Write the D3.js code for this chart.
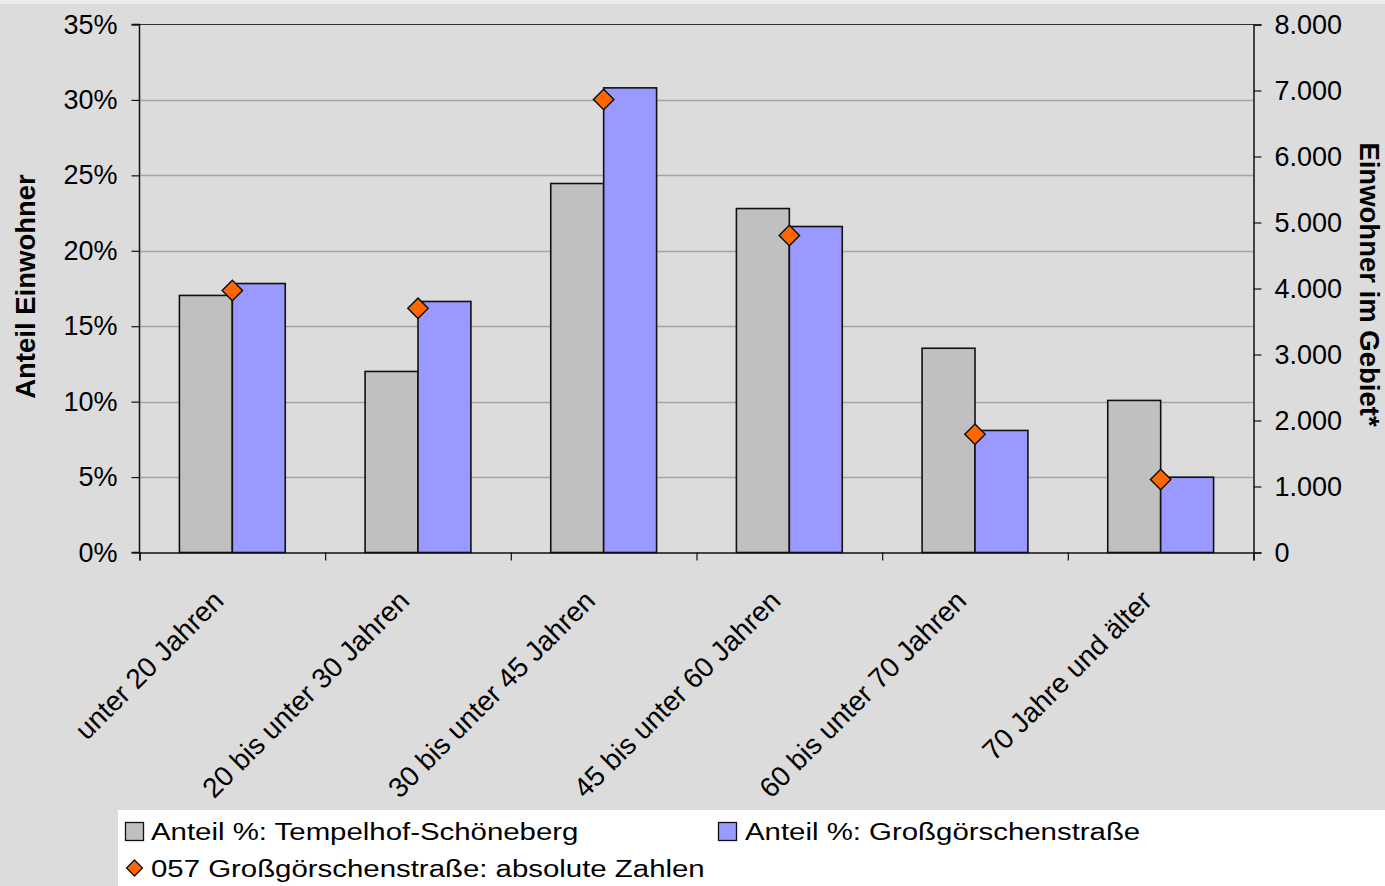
<!DOCTYPE html>
<html>
<head>
<meta charset="utf-8">
<script src="https://cdn.jsdelivr.net/npm/d3@7"></script>
<style>
  html, body { margin: 0; padding: 0; background: #dcdcdc; }
  svg { display: block; font-family: "Liberation Sans", Arial, sans-serif; }
</style>
</head>
<body>
<svg id="chart" width="1385" height="886"></svg>
<script>
const categories = ["unter 20 Jahren", "20 bis unter 30 Jahren", "30 bis unter 45 Jahren",
  "45 bis unter 60 Jahren", "60 bis unter 70 Jahren", "70 Jahre und älter"];
const shareTempelhof = [0.1704, 0.1200, 0.2446, 0.2280, 0.1354, 0.1008];
const shareGrossgoerschen = [0.1783, 0.1664, 0.3080, 0.2161, 0.0809, 0.0499];
const absoluteGrossgoerschen = [3970, 3700, 6864, 4803, 1792, 1106];
const leftTicks = [0, 0.05, 0.10, 0.15, 0.20, 0.25, 0.30, 0.35];
const rightTicks = [0, 1000, 2000, 3000, 4000, 5000, 6000, 7000, 8000];
const seriesNames = ["Anteil %: Tempelhof-Schöneberg", "Anteil %: Großgörschenstraße",
  "057 Großgörschenstraße: absolute Zahlen"];
const axisTitleLeft = "Anteil Einwohner";
const axisTitleRight = "Einwohner im Gebiet*";

const svg = d3.select("#chart");
const W = 1385, H = 886;
const plot = { left: 139.5, right: 1253.5, top: 24.5, bottom: 552.5 };

svg.append("rect").attr("width", W).attr("height", H).attr("fill", "#dcdcdc");
svg.append("rect").attr("width", W).attr("height", 4).attr("fill", "#ececec");

const x0 = d3.scaleBand().domain(categories).range([plot.left, plot.right])
  .paddingInner(0.43).paddingOuter(0.215);
const x1 = d3.scaleBand().domain(["ts", "gg"]).range([0, x0.bandwidth()]);
const xi = d3.scaleLinear().domain([0, categories.length]).range([plot.left, plot.right]);
const y = d3.scaleLinear().domain([0, 0.35]).range([plot.bottom, plot.top]);
const yR = d3.scaleLinear().domain([0, 8000]).range([plot.bottom, plot.top]);

const de = d3.formatLocale({ decimal: ",", thousands: ".", grouping: [3], currency: ["", " €"] });

// gridlines
svg.append("g").selectAll("line").data(leftTicks.slice(1, -1)).join("line")
  .attr("x1", plot.left).attr("x2", plot.right)
  .attr("y1", d => Math.round(y(d)) + 0.5).attr("y2", d => Math.round(y(d)) + 0.5)
  .attr("stroke", "#a4a4a4").attr("stroke-width", 1.3);

// top border
svg.append("line").attr("x1", plot.left).attr("x2", plot.right)
  .attr("y1", plot.top).attr("y2", plot.top).attr("stroke", "#333").attr("stroke-width", 1.2);

// bars
const g = svg.append("g");
categories.forEach((c, i) => {
  g.append("rect").attr("x", x0(c) + x1("ts")).attr("y", y(shareTempelhof[i]))
    .attr("width", x1.bandwidth()).attr("height", y(0) - y(shareTempelhof[i]))
    .attr("fill", "#c0c0c0").attr("stroke", "#111").attr("stroke-width", 1.6);
  g.append("rect").attr("x", x0(c) + x1("gg")).attr("y", y(shareGrossgoerschen[i]))
    .attr("width", x1.bandwidth()).attr("height", y(0) - y(shareGrossgoerschen[i]))
    .attr("fill", "#9999ff").attr("stroke", "#111").attr("stroke-width", 1.6);
});

// axes
const tickFont = 27;
const axL = svg.append("g").attr("transform", `translate(${plot.left},0)`)
  .call(d3.axisLeft(y).tickValues(leftTicks).tickFormat(d3.format(".0%")).tickSize(8).tickPadding(14));
const axR = svg.append("g").attr("transform", `translate(${plot.right},0)`)
  .call(d3.axisRight(yR).tickValues(rightTicks).tickFormat(de.format(",d")).tickSize(8).tickPadding(13));
const axB = svg.append("g").attr("transform", `translate(0,${plot.bottom})`)
  .call(d3.axisBottom(xi).tickValues(d3.range(categories.length + 1)).tickFormat("").tickSize(8));
[axL, axR, axB].forEach(a => {
  a.select(".domain").attr("stroke", "#111").attr("stroke-width", 1.5);
  a.selectAll(".tick line").attr("stroke", "#111").attr("stroke-width", 1.2);
  a.selectAll("text").attr("font-size", tickFont).attr("font-family", "Liberation Sans, Arial, sans-serif")
    .attr("fill", "#000");
});
axL.select(".domain").attr("d", `M-8,${plot.top}H0V${plot.bottom}H-8`);

// diamonds
const diamond = d3.symbol().type(d3.symbolDiamond2).size(2 * 11.5 * 11.5);
svg.append("g").selectAll("path").data(absoluteGrossgoerschen).join("path")
  .attr("transform", (d, i) => `translate(${x0(categories[i]) + x0.bandwidth() / 2},${yR(d)})`)
  .attr("d", diamond).attr("fill", "#ff6600").attr("stroke", "#111").attr("stroke-width", 1.5);

// category labels
svg.append("g").selectAll("text").data(categories).join("text")
  .attr("transform", c => `translate(${x0(c) + x0.bandwidth() / 2 - 7},${plot.bottom + 50}) rotate(-45)`)
  .attr("text-anchor", "end").attr("font-size", 28).text(c => c);

// axis titles
svg.append("text").attr("transform", `translate(35,${(plot.top + plot.bottom) / 2 - 2}) rotate(-90)`)
  .attr("text-anchor", "middle").attr("font-weight", "bold").attr("font-size", 27.5).text(axisTitleLeft);
svg.append("text").attr("transform", `translate(1360,${(plot.top + plot.bottom) / 2 - 4}) rotate(90)`)
  .attr("text-anchor", "middle").attr("font-weight", "bold").attr("font-size", 27.5).text(axisTitleRight);

// legend
const lg = svg.append("g");
lg.append("rect").attr("x", 118).attr("y", 810).attr("width", W - 118).attr("height", H - 810).attr("fill", "#fff");
const legFont = 24.5, legStretch = 1.2;
lg.append("rect").attr("x", 125.5).attr("y", 822.5).attr("width", 18).attr("height", 18)
  .attr("fill", "#c0c0c0").attr("stroke", "#111").attr("stroke-width", 1.3);
lg.append("text").attr("transform", `translate(151,840) scale(${legStretch},1)`).attr("font-size", legFont).text(seriesNames[0]);
lg.append("rect").attr("x", 718.5).attr("y", 822.5).attr("width", 18).attr("height", 18)
  .attr("fill", "#9999ff").attr("stroke", "#111").attr("stroke-width", 1.3);
lg.append("text").attr("transform", `translate(745,840) scale(${legStretch},1)`).attr("font-size", legFont).text(seriesNames[1]);
lg.append("path").attr("transform", "translate(134.5,868)")
  .attr("d", d3.symbol().type(d3.symbolDiamond2).size(2 * 9 * 9)())
  .attr("fill", "#ff6600").attr("stroke", "#111").attr("stroke-width", 1.3);
lg.append("text").attr("transform", `translate(151,877) scale(${legStretch},1)`).attr("font-size", legFont).text(seriesNames[2]);
</script>
</body>
</html>
